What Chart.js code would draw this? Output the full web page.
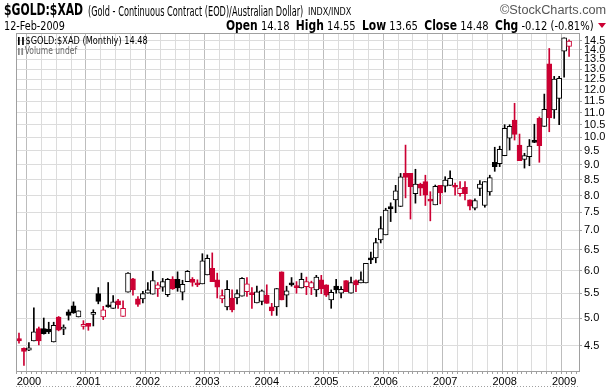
<!DOCTYPE html>
<html>
<head>
<meta charset="utf-8">
<script src="https://cdn.jsdelivr.net/npm/chart.js@4.4.1/dist/chart.umd.min.js"></script>
<style>
  body { margin: 0; background: #fff; }
  #wrap { position: relative; width: 609px; height: 388px; overflow: hidden; }
  #chart { position: absolute; left: 0; top: 0; }
  .fit { position: absolute; white-space: nowrap; font-family: "Liberation Sans Narrow", "DejaVu Sans Condensed", "Liberation Sans", sans-serif; transform-origin: left top; }
  .fit.r { transform-origin: right top; }
  .t1 { left: 4px; top: 0px; font-size: 16px; font-weight: bold; }
  .t2 { left: 88px; top: 3px; font-size: 13.5px; }
  .t3 { left: 308px; top: 6px; font-family: "DejaVu Sans", sans-serif; font-size: 10px; }
  .brand { right: 3px; top: 3px; font-family: "Liberation Sans", sans-serif; font-size: 12px; color: #555; }
  .date { left: 4px; top: 18px; font-size: 12.5px; }
  .ohlc { right: 15px; top: 17px; font-size: 13px; }
  .ohlc b { font-size: 14px; }
  .tri { position: absolute; right: 3px; top: 23px; width: 0; height: 0; border-left: 4px solid transparent; border-right: 4px solid transparent; border-top: 5px solid #cc0033; }
  .leg { left: 18px; top: 34px; font-size: 11px; color: #000; }
  .leg2 { left: 18px; top: 45px; font-size: 10px; color: #666; }
  .ico { display: inline-block; width: 7px; height: 8px; margin-right: 2px; vertical-align: -1px; border-left: 2px solid #000; border-right: 2px solid #000; box-sizing: border-box; }
  .ico2 { display: inline-block; width: 6px; height: 7px; margin-right: 2px; vertical-align: -1px; border-left: 2px solid #888; border-right: 2px solid #888; box-sizing: border-box; }
</style>
</head>
<body>
<div id="wrap">
  <canvas id="chart" width="609" height="388"></canvas>
  <div class="fit t1" data-w="79">$GOLD:$XAD</div>
  <div class="fit t2" data-w="215">(Gold - Continuous Contract (EOD)/Australian Dollar)</div>
  <div class="fit t3" data-w="43">INDX/INDX</div>
  <div class="fit r brand" data-w="106">&copy;StockCharts.com</div>
  <div class="fit date" data-w="61">12-Feb-2009</div>
  <div class="fit r ohlc" data-w="368"><b>Open</b> 14.18 &nbsp;<b>High</b> 14.55 &nbsp;<b>Low</b> 13.65 &nbsp;<b>Close</b> 14.48 &nbsp;<b>Chg</b> -0.12 (-0.81%)</div>
  <div class="tri"></div>
  <div class="fit leg" data-w="130"><span class="ico"></span>$GOLD:$XAD (Monthly) 14.48</div>
  <div class="fit leg2" data-w="59"><span class="ico2"></span>Volume undef</div>
</div>
<script>
/* Squeeze header texts to the narrow widths of the original */
document.querySelectorAll('.fit').forEach((el) => {
  const w = el.offsetWidth;
  if (w > 0) el.style.transform = 'scaleX(' + (Number(el.dataset.w) / w) + ')';
});

/* Monthly candles, Nov 1999 - Feb 2009 */
const months = [
  '1999-11', '1999-12',
  '2000-01', '2000-02', '2000-03', '2000-04', '2000-05', '2000-06', '2000-07', '2000-08', '2000-09', '2000-10', '2000-11', '2000-12',
  '2001-01', '2001-02', '2001-03', '2001-04', '2001-05', '2001-06', '2001-07', '2001-08', '2001-09', '2001-10', '2001-11', '2001-12',
  '2002-01', '2002-02', '2002-03', '2002-04', '2002-05', '2002-06', '2002-07', '2002-08', '2002-09', '2002-10', '2002-11', '2002-12',
  '2003-01', '2003-02', '2003-03', '2003-04', '2003-05', '2003-06', '2003-07', '2003-08', '2003-09', '2003-10', '2003-11', '2003-12',
  '2004-01', '2004-02', '2004-03', '2004-04', '2004-05', '2004-06', '2004-07', '2004-08', '2004-09', '2004-10', '2004-11', '2004-12',
  '2005-01', '2005-02', '2005-03', '2005-04', '2005-05', '2005-06', '2005-07', '2005-08', '2005-09', '2005-10', '2005-11', '2005-12',
  '2006-01', '2006-02', '2006-03', '2006-04', '2006-05', '2006-06', '2006-07', '2006-08', '2006-09', '2006-10', '2006-11', '2006-12',
  '2007-01', '2007-02', '2007-03', '2007-04', '2007-05', '2007-06', '2007-07', '2007-08', '2007-09', '2007-10', '2007-11', '2007-12',
  '2008-01', '2008-02', '2008-03', '2008-04', '2008-05', '2008-06', '2008-07', '2008-08', '2008-09', '2008-10', '2008-11', '2008-12',
  '2009-01', '2009-02'
];
const opens = [
  4.62, 4.45,
  4.42, 4.58, 4.80, 4.80, 4.79, 4.56, 5.02, 4.79, 5.12, 5.24, 5.02, 4.84,
  4.90, 5.07, 5.49, 5.02, 5.26, 5.19, 5.34, 5.03, 5.52, 5.81, 5.38, 5.38,
  5.50, 5.48, 5.59, 5.63, 5.47, 5.80, 5.80, 5.52, 5.75, 5.80, 5.72, 5.70,
  5.90, 6.05, 5.79, 5.38, 5.22, 5.40, 5.40, 5.44, 5.53, 5.50, 5.30, 5.33,
  5.46, 5.22, 5.22, 5.97, 5.46, 5.72, 5.65, 5.61, 5.64, 5.61, 5.57, 5.79,
  5.68, 5.36, 5.65, 5.50, 5.77, 5.50, 5.77, 5.72, 5.72, 6.29, 6.30, 6.75,
  6.88, 7.67, 7.87, 7.67, 8.71, 8.71, 8.06, 8.36, 8.44, 7.89, 7.72, 8.32,
  8.29, 8.32, 8.32, 8.06, 8.26, 7.87, 7.62, 8.22, 7.70, 8.11, 9.09, 9.04,
  9.32, 9.97, 10.69, 9.71, 9.19, 9.29, 9.85, 10.76, 10.43, 13.27, 11.11, 11.62,
  13.92, 14.18
];
const highs = [
  4.72, 4.46,
  4.55, 5.20, 4.83, 5.00, 4.92, 4.92, 5.03, 4.87, 5.16, 5.32, 5.14, 4.95,
  4.90, 5.16, 5.62, 5.23, 5.73, 5.45, 5.37, 5.34, 5.95, 5.82, 5.43, 5.54,
  5.73, 5.98, 5.73, 5.82, 5.82, 5.86, 5.97, 5.78, 6.00, 5.84, 5.79, 6.40,
  6.37, 6.42, 5.94, 5.57, 5.77, 5.57, 5.57, 5.84, 5.84, 5.62, 5.65, 5.57,
  5.68, 5.29, 5.60, 5.97, 5.65, 5.84, 5.75, 5.94, 5.85, 5.76, 5.89, 5.89,
  5.68, 5.57, 5.80, 5.64, 5.77, 5.85, 5.79, 5.97, 6.17, 6.44, 6.79, 7.38,
  7.62, 7.78, 8.32, 8.71, 9.71, 8.71, 8.85, 8.39, 8.65, 8.12, 8.33, 8.32,
  8.60, 8.80, 8.39, 8.44, 8.44, 7.87, 7.90, 8.47, 8.44, 8.65, 9.63, 9.67,
  10.50, 10.50, 11.40, 10.13, 9.41, 9.92, 10.52, 10.82, 11.81, 14.07, 12.64, 12.64,
  14.66, 14.55
];
const lows = [
  4.54, 4.17,
  4.41, 4.58, 4.51, 4.70, 4.71, 4.56, 4.76, 4.69, 4.96, 5.09, 5.02, 4.79,
  4.77, 4.85, 5.28, 4.97, 5.21, 5.19, 5.19, 5.03, 5.52, 5.46, 5.23, 5.30,
  5.50, 5.48, 5.43, 5.54, 5.43, 5.58, 5.54, 5.36, 5.75, 5.65, 5.64, 5.70,
  5.90, 5.75, 5.40, 5.30, 5.16, 5.12, 5.28, 5.44, 5.43, 5.19, 5.30, 5.26,
  5.29, 5.05, 5.05, 5.36, 5.22, 5.65, 5.50, 5.61, 5.47, 5.47, 5.43, 5.49,
  5.43, 5.19, 5.50, 5.40, 5.53, 5.50, 5.53, 5.72, 5.72, 6.16, 6.18, 6.67,
  6.88, 7.24, 7.49, 7.67, 7.93, 7.31, 7.77, 8.00, 7.70, 7.26, 7.72, 7.75,
  8.11, 8.32, 8.01, 7.98, 7.87, 7.57, 7.57, 8.00, 7.65, 8.01, 8.78, 8.94,
  9.32, 9.53, 9.90, 9.15, 8.89, 8.97, 9.80, 9.09, 10.43, 10.22, 10.76, 10.50,
  12.60, 13.65
];
const closes = [
  4.58, 4.40,
  4.46, 4.74, 4.58, 4.71, 4.74, 4.86, 4.77, 4.83, 5.05, 5.10, 5.14, 4.88,
  4.84, 5.09, 5.33, 5.16, 5.22, 5.32, 5.26, 5.19, 5.94, 5.57, 5.27, 5.49,
  5.57, 5.77, 5.68, 5.75, 5.80, 5.59, 5.61, 5.69, 5.98, 5.73, 5.68, 6.23,
  6.29, 5.75, 5.63, 5.45, 5.58, 5.16, 5.49, 5.82, 5.70, 5.47, 5.53, 5.55,
  5.29, 5.14, 5.60, 5.36, 5.55, 5.68, 5.62, 5.80, 5.75, 5.73, 5.85, 5.59,
  5.46, 5.52, 5.57, 5.58, 5.53, 5.73, 5.68, 5.79, 6.17, 6.25, 6.68, 7.05,
  7.57, 7.60, 8.15, 8.60, 8.58, 8.28, 8.36, 8.23, 8.01, 7.83, 8.29, 8.08,
  8.49, 8.55, 8.26, 8.23, 8.06, 7.68, 7.85, 8.36, 8.44, 8.57, 8.94, 9.55,
  10.36, 10.43, 10.12, 9.15, 9.33, 9.67, 9.81, 9.69, 11.14, 10.78, 12.51, 12.55,
  14.66, 14.48
];
const yearLabels = ['2000', '2001', '2002', '2003', '2004', '2005', '2006', '2007', '2008', '2009'];
const priceTicks = [4.5, 5.0, 5.5, 6.0, 6.5, 7.0, 7.5, 8.0, 8.5, 9.0, 9.5, 10.0, 10.5, 11.0, 11.5, 12.0, 12.5, 13.0, 13.5, 14.0, 14.5];

const RED = '#cc0033';
const BLACK = '#000000';

// month number counted from Jan 2000
const monthIdx = months.map((m) => {
  const [y, mo] = m.split('-').map(Number);
  return (y - 2000) * 12 + (mo - 1);
});

// stockcharts style: red if close below previous close, hollow if close above open
const candleColor = closes.map((c, i) => (i === 0 || c < closes[i - 1] ? RED : BLACK));
const bodyFill = closes.map((c, i) => (c > opens[i] ? '#ffffff' : candleColor[i]));

const frame = {
  id: 'frame',
  afterDraw(chart) {
    const { ctx, chartArea: a } = chart;
    ctx.save();
    ctx.strokeStyle = '#a0a0a0';
    ctx.lineWidth = 1;
    ctx.strokeRect(Math.round(a.left) + 0.5, Math.round(a.top) + 0.5, Math.round(a.right - a.left), Math.round(a.bottom - a.top));
    ctx.setLineDash([1, 2]);
    ctx.beginPath();
    ctx.moveTo(a.left, 386.5);
    ctx.lineTo(a.right, 386.5);
    ctx.stroke();
    ctx.restore();
  },
};

const ctx = document.getElementById('chart').getContext('2d');
const chart = new Chart(ctx, {
  type: 'bar',
  data: {
    datasets: [
      {
        label: 'body',
        data: monthIdx.map((x, i) => ({ x: x, y: [opens[i], closes[i]] })),
        backgroundColor: bodyFill,
        borderColor: candleColor,
        borderWidth: 1,
        borderSkipped: false,
        barThickness: 5,
        minBarLength: 2,
        grouped: false,
        order: 0,
      },
      {
        label: 'wick',
        data: monthIdx.map((x, i) => ({ x: x, y: [lows[i], highs[i]] })),
        backgroundColor: candleColor,
        borderWidth: 0,
        barThickness: 1,
        grouped: false,
        order: 1,
      },
    ],
  },
  options: {
    responsive: false,
    animation: false,
    layout: { padding: { left: 16, top: 33, right: 0, bottom: 0 } },
    plugins: {
      legend: { display: false },
      tooltip: { enabled: false },
    },
    scales: {
      x: {
        type: 'linear',
        min: -2.1,
        max: 110.5,
        afterBuildTicks: (scale) => {
          const t = [];
          for (let v = -2; v <= 110; v++) t.push({ value: v });
          scale.ticks = t;
        },
        afterFit: (scale) => { scale.height = 17; },
        grid: {
          color: (c) => {
            const v = c.tick ? c.tick.value : 1;
            if (v % 12 === 0) return '#bdbdbd';
            if (v % 3 === 0) return '#dcdcdc';
            return 'rgba(0,0,0,0)';
          },
          tickColor: '#a0a0a0',
          tickLength: 3,
        },
        border: { color: '#a0a0a0' },
        ticks: {
          autoSkip: false,
          maxRotation: 0,
          padding: 1,
          color: '#000',
          font: { family: 'Liberation Sans', size: 11 },
          callback: (v) => (v % 12 === 0 ? yearLabels[v / 12] : ''),
        },
      },
      y: {
        type: 'logarithmic',
        position: 'right',
        min: 4.08,
        max: 14.93,
        afterBuildTicks: (scale) => {
          scale.ticks = priceTicks.map((v) => ({ value: v }));
        },
        afterFit: (scale) => { scale.width = 30; },
        grid: { color: '#dcdcdc', tickLength: 3, tickColor: '#a0a0a0' },
        border: { color: '#a0a0a0' },
        ticks: {
          padding: 2,
          color: '#000',
          font: { family: 'Liberation Sans', size: 11 },
          callback: (v) => Number(v).toFixed(1),
        },
      },
    },
  },
  plugins: [frame],
});
</script>
</body>
</html>
